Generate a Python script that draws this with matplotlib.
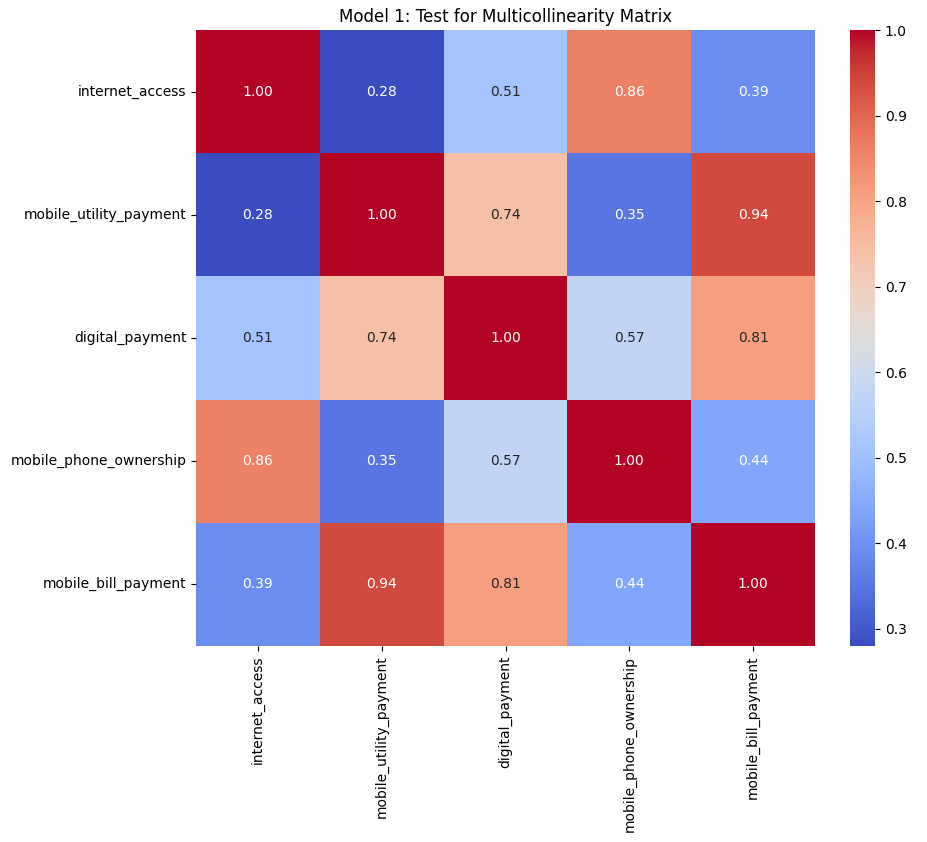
import numpy as np
import pandas as pd
import matplotlib
matplotlib.use("Agg")
import matplotlib.pyplot as plt
import seaborn as sns

variables = ["internet_access", "mobile_utility_payment", "digital_payment",
             "mobile_phone_ownership", "mobile_bill_payment"]

internet_access = [1.00, 0.28, 0.51, 0.86, 0.39]
mobile_utility_payment = [0.28, 1.00, 0.74, 0.35, 0.94]
digital_payment = [0.51, 0.74, 1.00, 0.57, 0.81]
mobile_phone_ownership = [0.86, 0.35, 0.57, 1.00, 0.44]
mobile_bill_payment = [0.39, 0.94, 0.81, 0.44, 1.00]

corr = pd.DataFrame(
    [internet_access, mobile_utility_payment, digital_payment,
     mobile_phone_ownership, mobile_bill_payment],
    index=variables, columns=variables)

fig = plt.figure(figsize=(9.27, 8.42), dpi=100)
ax = fig.add_axes([196 / 927, 196 / 842, 619 / 927, 616 / 842])
cax = fig.add_axes([850 / 927, 196 / 842, 25 / 927, 616 / 842])

sns.heatmap(corr, annot=True, cmap="coolwarm", fmt=".2f", ax=ax, cbar_ax=cax)
ax.set_title("Model 1: Test for Multicollinearity Matrix")

fig.savefig("out.png", dpi=100)
